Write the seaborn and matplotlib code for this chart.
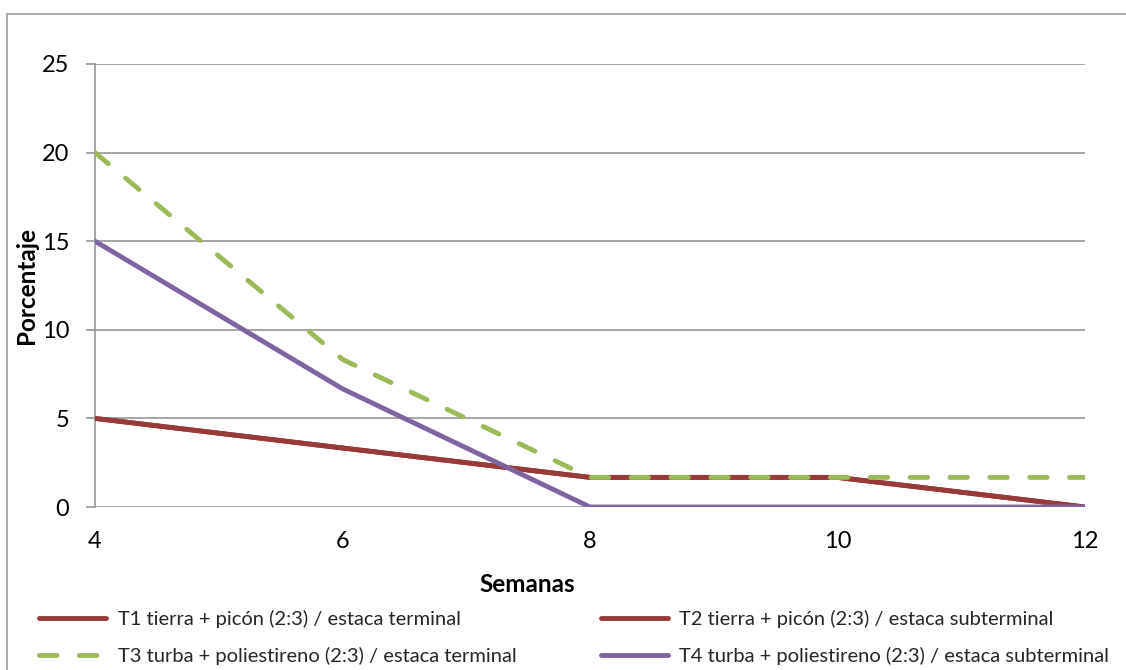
import matplotlib
matplotlib.use("Agg")
import matplotlib.pyplot as plt
from matplotlib.lines import Line2D
import seaborn as sns
import pandas as pd

semanas = [4, 6, 8, 10, 12]
t1 = [5.0, 3.33, 1.67, 1.67, 0.0]
t2 = [5.0, 3.33, 1.67, 1.67, 0.0]
t3 = [20.0, 8.33, 1.67, 1.67, 1.67]
t4 = [15.0, 6.67, 0.0, 0.0, 0.0]
labels = [
    "T1 tierra + picón (2:3) / estaca terminal",
    "T2 tierra + picón (2:3) / estaca subterminal",
    "T3 turba + poliestireno (2:3) / estaca terminal",
    "T4 turba + poliestireno (2:3) / estaca subterminal",
]
y_ticks = [0, 5, 10, 15, 20, 25]
x_ticks = [4, 6, 8, 10, 12]

colors = ["#983A37", "#983A37", "#9BBB59", "#8064A2"]

sns.set_theme(style="white")
plt.rcParams["font.family"] = ["Lato", "DejaVu Sans"]

rows = []
for lab, vals in zip(labels, [t1, t2, t3, t4]):
    for x, v in zip(semanas, vals):
        rows.append({"Semanas": x, "Porcentaje": v, "Serie": lab})
df = pd.DataFrame(rows)

fig = plt.figure(figsize=(11.26, 6.70), dpi=100)
ax = fig.add_axes([95 / 1126, 1 - 507 / 670, 990 / 1126, 443 / 670])

lw = 3.5
dash = (3.6, 4.6)
for lab, col in zip(labels, colors):
    sub = df[df["Serie"] == lab]
    sns.lineplot(data=sub, x="Semanas", y="Porcentaje", ax=ax, color=col,
                 linewidth=lw, legend=False, sort=False, zorder=3)
    line = ax.lines[-1]
    line.set_solid_capstyle("round")
    line.set_dash_capstyle("round")
    line.set_solid_joinstyle("miter")
    if lab.startswith("T3"):
        line.set_dashes(dash)

ax.set_xlim(4, 12)
ax.set_ylim(0, 25)
ax.set_xticks(x_ticks)
ax.set_yticks(y_ticks)
ax.set_xticklabels([str(v) for v in x_ticks])
ax.set_yticklabels([str(v) for v in y_ticks])

grid_col = "#969696"
ax.yaxis.grid(True, color=grid_col, linewidth=1.2, zorder=0)
ax.xaxis.grid(False)
for s in ["top", "right", "bottom"]:
    ax.spines[s].set_visible(False)
ax.spines["left"].set_color(grid_col)
ax.spines["left"].set_linewidth(1.2)
ax.set_axisbelow(True)

ax.tick_params(axis="y", which="major", length=6.5, width=1.2, color=grid_col,
               pad=12, labelsize=17, labelcolor="black", left=True)
ax.tick_params(axis="x", which="major", length=0, pad=17, labelsize=17,
               labelcolor="black", bottom=True)

ax.set_xlabel("Semanas", fontsize=17.5, fontweight="bold", color="black")
ax.set_ylabel("Porcentaje", fontsize=17.5, fontweight="bold", color="black")
ax.xaxis.set_label_coords((527 - 95) / 990, (507 - 584) / 443)
ax.xaxis.label.set_verticalalignment("center")
ax.yaxis.set_label_coords((27 - 95) / 990, 0.5)
ax.yaxis.label.set_verticalalignment("center")

handles = []
for lab, col in zip(labels, colors):
    h = Line2D([0], [0], color=col, linewidth=lw, solid_capstyle="round",
               dash_capstyle="round")
    if lab.startswith("T3"):
        h.set_dashes(dash)
    handles.append(h)

# legend fills column-first: reorder so rows read T1,T2 / T3,T4
order = [0, 2, 1, 3]
leg = fig.legend([handles[i] for i in order], [labels[i] for i in order],
                 loc="upper left", ncol=2,
                 bbox_to_anchor=(39 / 1126, 1 - 610 / 670),
                 frameon=False, fontsize=14.5, handlelength=3.35,
                 handletextpad=0.55, columnspacing=4.2, labelspacing=0.95,
                 borderaxespad=0, borderpad=0)

fig.add_artist(Line2D([7 / 1126, 7 / 1126], [0, 1 - 14 / 670],
                      transform=fig.transFigure, color="#a0a0a0", linewidth=1.2))
fig.add_artist(Line2D([7 / 1126, 1.0], [1 - 14 / 670, 1 - 14 / 670],
                      transform=fig.transFigure, color="#a0a0a0", linewidth=1.2))

fig.savefig("out.png", dpi=100, facecolor="white")
